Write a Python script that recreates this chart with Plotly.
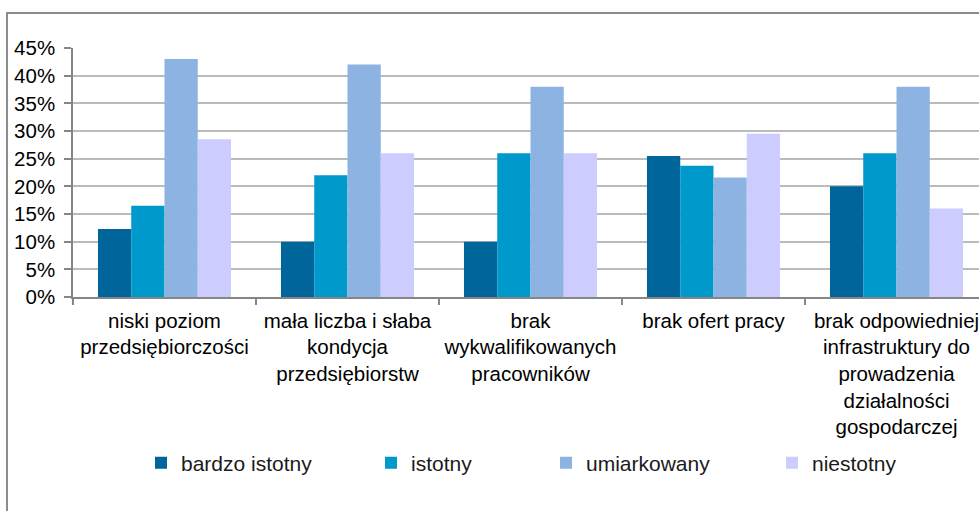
import plotly.graph_objects as go

categories = [
    "niski poziom<br>przedsiębiorczości",
    "mała liczba i słaba<br>kondycja<br>przedsiębiorstw",
    "brak<br>wykwalifikowanych<br>pracowników",
    "brak ofert pracy",
    "brak odpowiedniej<br>infrastruktury do<br>prowadzenia<br>działalności<br>gospodarczej",
]
series_names = ["bardzo istotny", "istotny", "umiarkowany", "niestotny"]
bardzo_istotny = [12.3, 10.0, 10.0, 25.5, 20.0]
istotny = [16.5, 22.0, 26.0, 23.7, 26.0]
umiarkowany = [43.0, 42.0, 38.0, 21.6, 38.0]
niestotny = [28.5, 26.0, 26.0, 29.5, 16.0]
y_ticks = [0, 5, 10, 15, 20, 25, 30, 35, 40, 45]

colors = ["#00659A", "#0099CC", "#8DB3E2", "#CCCCFF"]
values = [bardzo_istotny, istotny, umiarkowany, niestotny]
legend_ids = ["legend", "legend2", "legend3", "legend4"]

FONT = "Liberation Sans, Arial, sans-serif"

L, T, W, H = 73, 48, 979, 511
BOTTOM = 297
plot_w = W - L
plot_h = BOTTOM - T

# symbol centres of the legend entries in the reference (pixels)
legend_sym_px = [161, 391, 566, 792]
legend_x = [(p - 20 - L) / plot_w for p in legend_sym_px]

fig = go.Figure()
for name, vals, col, lid in zip(series_names, values, colors, legend_ids):
    fig.add_trace(go.Bar(
        x=categories, y=vals, name=name, marker=dict(color=col, line=dict(width=0)),
        legend=lid,
    ))

layout_legends = {}
for lid, lx in zip(legend_ids, legend_x):
    layout_legends[lid] = dict(
        x=lx, y=(BOTTOM - 463) / plot_h, xanchor="left", yanchor="middle",
        orientation="h", bgcolor="rgba(0,0,0,0)", borderwidth=0,
        font=dict(family=FONT, size=21, color="#1a1a1a"),
        itemwidth=30,
    )

fig.update_layout(
    width=W, height=H,
    margin=dict(l=L, r=0, t=T, b=H - BOTTOM, pad=0),
    paper_bgcolor="white", plot_bgcolor="white",
    barmode="group", bargap=0.273, bargroupgap=0,
    showlegend=True,
    font=dict(family=FONT, size=19, color="#000000"),
    **layout_legends,
)

fig.update_yaxes(
    range=[0, 45], tickvals=y_ticks, ticktext=[f"{v}%" for v in y_ticks],
    showgrid=True, gridcolor="#BBBBBB", gridwidth=1.6,
    showline=True, linecolor="#868686", linewidth=1.5,
    ticks="outside", ticklen=7, tickcolor="#868686", tickwidth=1.5,
    tickfont=dict(family=FONT, size=20.5, color="#000000"),
    ticklabelstandoff=5,
    zeroline=False,
)
fig.update_xaxes(
    type="category", range=[-0.5, -0.5 + plot_w / 183.0],
    showline=True, linecolor="#868686", linewidth=2,
    ticks="outside", tickson="boundaries", ticklen=6, tickcolor="#868686", tickwidth=1.5,
    tickfont=dict(family=FONT, size=20.5, color="#000000"),
    ticklabelstandoff=4,
    showgrid=False,
)

# outer chart frame (cut off at right and bottom like the reference)
fx0 = (7 - L) / plot_w
fy1 = 1 + (T - 13) / plot_h
fig.add_shape(type="rect", xref="paper", yref="paper",
              x0=fx0, x1=1.2, y0=-2.0, y1=fy1,
              line=dict(color="#8C8C8C", width=2), fillcolor="rgba(0,0,0,0)", layer="below")

fig.write_html("out.html", config={"displayModeBar": False},
               post_script="document.body.style.margin='0';")
